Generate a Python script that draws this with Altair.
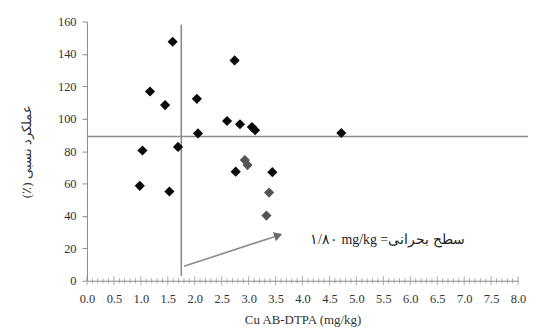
import altair as alt
import pandas as pd

# data
cu = [1.59, 1.17, 1.45, 2.04, 2.74, 2.60, 2.84, 3.06, 3.12, 2.06, 1.03, 1.69, 4.72,
      0.98, 1.53, 2.76, 3.44, 2.93, 2.98, 3.38, 3.33]
ry = [147.5, 116.8, 108.4, 112.3, 136.0, 98.6, 96.6, 94.9, 92.9, 90.9, 80.4, 82.6, 91.2,
      58.6, 55.1, 67.3, 67.0, 74.5, 71.4, 54.4, 40.2]
shade = ["dark"] * 17 + ["light"] * 4

critical_x = 1.75
critical_y = 89
vline_y = [3, 158]
arrow_x = [1.80, 3.55]
arrow_y = [8.9, 28.0]
note_x = [4.14]
note_y = [25.4]
note_text = ["۱/۸۰  mg/kg =سطح بحرانی"]

x_major = [i * 0.5 for i in range(17)]
x_minor = [round(i * 0.1, 1) for i in range(81) if i % 5 != 0]
y_ticks = [0, 20, 40, 60, 80, 100, 120, 140, 160]

FONT = "Liberation Serif"
GRAY = "#8a8a8a"
W, H = 434, 261

pts = pd.DataFrame({"cu": cu, "ry": ry, "shade": shade})
xs = alt.Scale(domain=[0, 8], nice=False, zero=False)
ys = alt.Scale(domain=[0, 160], nice=False)

points = alt.Chart(pts).mark_point(shape="diamond", filled=True, size=105, opacity=1).encode(
    x=alt.X("cu:Q", scale=xs, title="Cu AB-DTPA (mg/kg)",
            axis=alt.Axis(values=x_major, format=".1f", ticks=False, labelPadding=12,
                          titlePadding=9, labelFlush=False)),
    y=alt.Y("ry:Q", scale=ys, title="(٪) عملکرد نسبی",
            axis=alt.Axis(values=y_ticks, tickSize=5, labelPadding=6, titlePadding=24)),
    color=alt.Color("shade:N", scale=alt.Scale(domain=["dark", "light"], range=["#0a0a0a", "#555555"]),
                    legend=None),
)

# small crossing ticks on the x axis line
minor = alt.Chart(pd.DataFrame({"x": x_minor, "y": [0] * len(x_minor)})).mark_tick(
    orient="vertical", size=5, thickness=1, color=GRAY
).encode(x=alt.X("x:Q", scale=xs, axis=None), y=alt.Y("y:Q", scale=ys, axis=None))
major = alt.Chart(pd.DataFrame({"x": x_major, "y": [0] * len(x_major)})).mark_tick(
    orient="vertical", size=9, thickness=1, color=GRAY
).encode(x=alt.X("x:Q", scale=xs, axis=None), y=alt.Y("y:Q", scale=ys, axis=None))

hrule = alt.Chart(pd.DataFrame({"y": [critical_y]})).mark_rule(color=GRAY, strokeWidth=1.6).encode(
    y=alt.Y("y:Q", scale=ys, axis=None),
    x=alt.value(0), x2=alt.value(W + 16),
)

vdf = pd.DataFrame({"x": [critical_x], "y1": [vline_y[0]], "y2": [vline_y[1]]})
vrule = alt.Chart(vdf).mark_rule(color=GRAY, strokeWidth=1.6).encode(
    x=alt.X("x:Q", scale=xs, axis=None),
    y=alt.Y("y1:Q", scale=ys, axis=None),
    y2="y2:Q",
)

adf = pd.DataFrame({"x1": [arrow_x[0]], "x2": [arrow_x[1]], "y1": [arrow_y[0]], "y2": [arrow_y[1]]})
arrow = alt.Chart(adf).mark_rule(color=GRAY, strokeWidth=1.6).encode(
    x=alt.X("x1:Q", scale=xs, axis=None), x2="x2:Q",
    y=alt.Y("y1:Q", scale=ys, axis=None), y2="y2:Q",
)
head = alt.Chart(pd.DataFrame({"x": [arrow_x[1]], "y": [arrow_y[1]]})).mark_point(
    shape="triangle-right", filled=True, size=90, color="#6a6a6a", angle=341, opacity=1
).encode(
    x=alt.X("x:Q", scale=xs, axis=None),
    y=alt.Y("y:Q", scale=ys, axis=None),
)

note = alt.Chart(pd.DataFrame({"x": note_x, "y": note_y, "t": note_text})).mark_text(
    align="left", baseline="middle", fontSize=14, font=FONT, color="#222222"
).encode(
    x=alt.X("x:Q", scale=xs, axis=None),
    y=alt.Y("y:Q", scale=ys, axis=None),
    text="t:N",
)

chart = alt.layer(hrule, vrule, arrow, head, minor, major, points, note).resolve_axis(
    x="independent", y="independent"
).properties(
    width=W, height=H,
    autosize=alt.AutoSizeParams(type="none"),
    padding={"left": 79.5, "top": 12.5, "right": 10, "bottom": 50},
    background="white",
).configure_view(stroke=None).configure_axis(
    domainColor=GRAY, tickColor=GRAY, grid=False,
    labelFont=FONT, labelFontSize=12.5, labelColor="#333333",
    titleFont=FONT, titleFontSize=13, titleColor="#333333", titleFontWeight="normal",
)

chart.save("out.html", embed_options={"renderer": "svg", "actions": False})
